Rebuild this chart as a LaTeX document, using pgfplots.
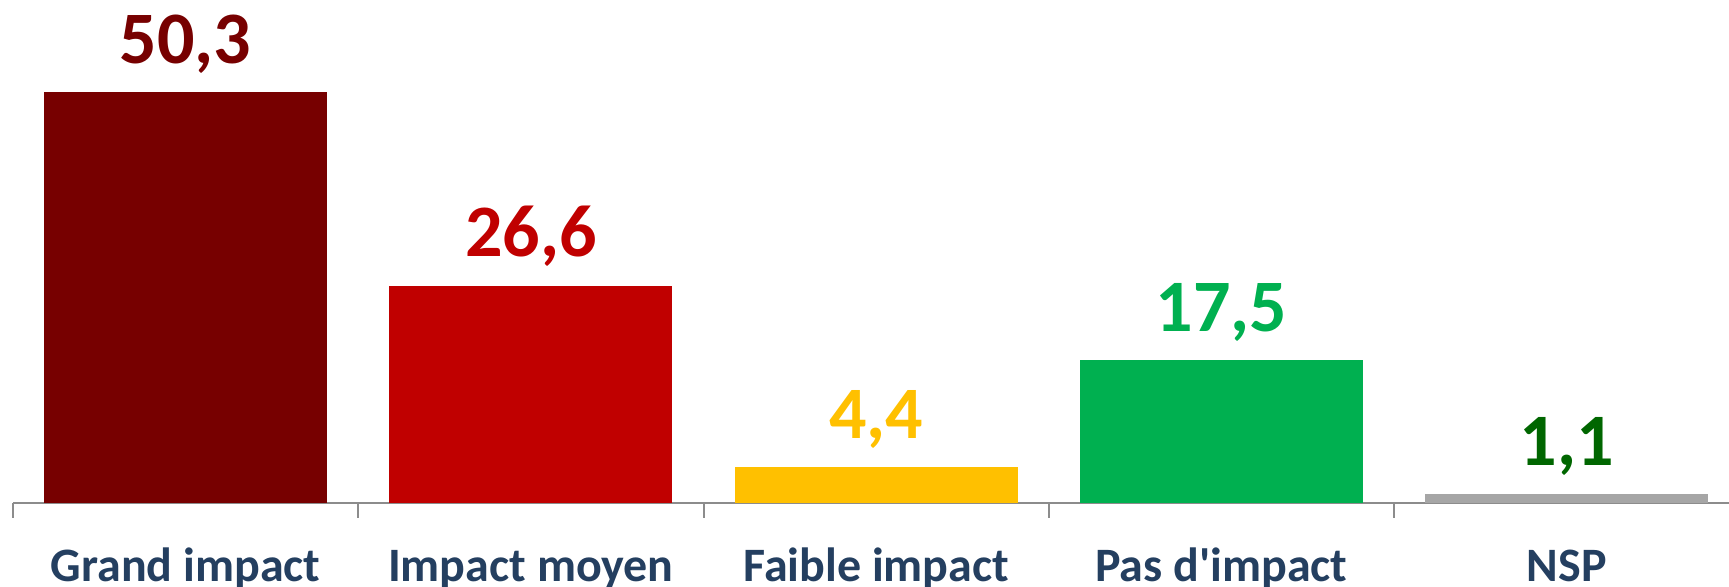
\documentclass[border=0pt]{standalone}
\usepackage{pgfplots}
\pgfplotsset{compat=1.18}
\usepackage{fontspec}
\setmainfont{Carlito}
\newcommand{\sq}{\XeTeXglyph\the\XeTeXcharglyph"0027\relax}
\definecolor{cGrand}{HTML}{770000}
\definecolor{cMoyen}{HTML}{C00000}
\definecolor{cFaible}{HTML}{FFC000}
\definecolor{cPas}{HTML}{00B050}
\definecolor{cNSP}{HTML}{A6A6A6}
\definecolor{cNSPlab}{HTML}{006600}
\definecolor{cCat}{HTML}{243F60}
\definecolor{cAxis}{HTML}{8C8C8C}
\begin{document}
\begin{tikzpicture}
\begin{axis}[
  at={(0,0)}, anchor=south west,
  scale only axis, width=858pt, height=251.5pt,
  xmin=-0.5, xmax=4.47, ymin=0, ymax=61.6,
  ybar, bar width=0.82, bar shift=0pt,
  axis y line=none, axis x line*=bottom,
  x axis line style={cAxis, line width=1pt, -},
  xtick={0,1,2,3,4},
  xticklabels={Grand impact, Impact moyen, Faible impact, {Pas d\sq impact}, NSP},
  major tick length=0pt,
  xticklabel style={font=\fontsize{24}{28}\selectfont\bfseries, text=cCat, anchor=base, yshift=-39.3pt, inner sep=0pt},
  extra x ticks={-0.5,0.5,1.5,2.5,3.5},
  extra x tick labels={},
  extra x tick style={major tick length=7.5pt, tick align=outside, tick style={cAxis, line width=1pt}},
  clip=false,
  nodes near coords={\pgfmathprintnumber[use comma, fixed, precision=1, fixed zerofill, assume math mode=true]{\pgfplotspointmeta}},
  every node near coord/.append style={font=\fontsize{37}{42}\selectfont\bfseries, anchor=base, yshift=14.5pt, inner sep=0pt},
]
\addplot[draw=none, fill=cGrand, nodes near coords style={text=cGrand}] coordinates {(0,50.3)};
\addplot[draw=none, fill=cMoyen, nodes near coords style={text=cMoyen}] coordinates {(1,26.6)};
\addplot[draw=none, fill=cFaible, nodes near coords style={text=cFaible}] coordinates {(2,4.4)};
\addplot[draw=none, fill=cPas, nodes near coords style={text=cPas}] coordinates {(3,17.5)};
\addplot[draw=none, fill=cNSP, nodes near coords style={text=cNSPlab}] coordinates {(4,1.1)};
\end{axis}
\pgfresetboundingbox
\path[use as bounding box] (-6.5pt,-42pt) rectangle (858pt,251.5pt);
\end{tikzpicture}
\end{document}
